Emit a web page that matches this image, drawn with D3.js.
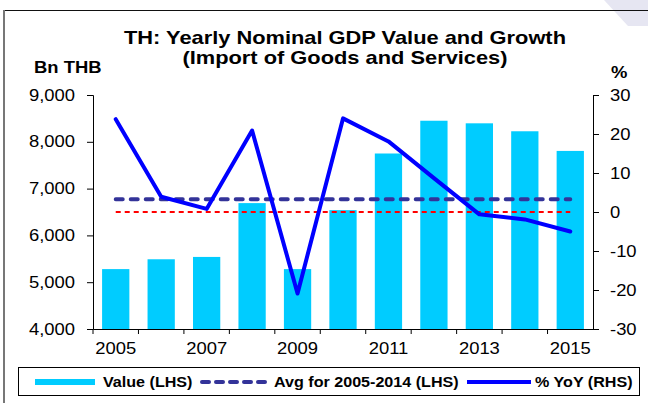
<!DOCTYPE html>
<html>
<head>
<meta charset="utf-8">
<script src="https://cdn.jsdelivr.net/npm/d3@7"></script>
<style>
  body { margin: 0; background: #fff; }
  svg { display: block; font-family: "Liberation Sans", Arial, sans-serif; }
</style>
</head>
<body>
<div id="chart"></div>
<script>
// data
var years = [2005, 2006, 2007, 2008, 2009, 2010, 2011, 2012, 2013, 2014, 2015];
var values = [5280, 5490, 5540, 6690, 5280, 6540, 7750, 8450, 8395, 8225, 7805];
var yoy = [23.8, 3.9, 0.8, 20.9, -20.9, 24.0, 18.1, 8.7, -0.6, -1.9, -5.0];
var avgValue = 6770;
var leftTicks = [4000, 5000, 6000, 7000, 8000, 9000];
var rightTicks = [-30, -20, -10, 0, 10, 20, 30];
var labelYears = [2005, 2007, 2009, 2011, 2013, 2015];

var svgWidth = 648;
var svgHeight = 403;

var margin = {
    top: 95,
    bottom: 74,
    left: 93,
    right: 55
};

var width = svgWidth - margin.left - margin.right;
var height = svgHeight - margin.top - margin.bottom;

var svg = d3.select("#chart")
.append("svg")
.attr("width", svgWidth)
.attr("height", svgHeight);

// frame + corner decoration
svg.append("polygon")
.attr("points", "604,0 648,0 648,26 628,26")
.attr("fill", "#e6e6f2");
svg.append("line")
.attr("x1", 3).attr("x2", 648).attr("y1", 10.5).attr("y2", 10.5)
.attr("stroke", "#111").attr("stroke-width", 1);
svg.append("line")
.attr("x1", 4).attr("x2", 4).attr("y1", 10).attr("y2", 403)
.attr("stroke", "#777").attr("stroke-width", 2);

var chartGroup = svg.append("g")
.attr("transform", `translate(${margin.left}, ${margin.top})`);

var xBandScale = d3.scaleBand()
.domain(years)
.range([0, width])
.paddingInner(0.4)
.paddingOuter(0.2);

var yLeft = d3.scaleLinear()
.domain([4000, 9000])
.range([height, 0]);

var yRight = d3.scaleLinear()
.domain([-30, 30])
.range([height, 0]);

var xCenter = d => xBandScale(d) + xBandScale.bandwidth() / 2;

// bars
chartGroup.selectAll(".bar")
.data(values)
.enter()
.append("rect")
.attr("class", "bar")
.attr("x", (d, i) => xBandScale(years[i]))
.attr("width", xBandScale.bandwidth())
.attr("y", d => yLeft(d))
.attr("height", d => height - yLeft(d))
.attr("fill", "#00ccff");

// avg line (LHS)
chartGroup.append("line")
.attr("x1", xCenter(years[0]))
.attr("x2", xCenter(years[years.length - 1]))
.attr("y1", yLeft(avgValue))
.attr("y2", yLeft(avgValue))
.attr("stroke", "#333399")
.attr("stroke-width", 4)
.attr("stroke-linecap", "round")
.attr("stroke-dasharray", "7,8");

// zero line of RHS
chartGroup.append("line")
.attr("x1", xCenter(years[0]))
.attr("x2", xCenter(years[years.length - 1]))
.attr("y1", yRight(0))
.attr("y2", yRight(0))
.attr("stroke", "#ff0000")
.attr("stroke-width", 2)
.attr("stroke-dasharray", "5,4");

// % yoy line
var line = d3.line()
.x((d, i) => xCenter(years[i]))
.y(d => yRight(d));

chartGroup.append("path")
.datum(yoy)
.attr("d", line)
.attr("fill", "none")
.attr("stroke", "#0000ff")
.attr("stroke-width", 4)
.attr("stroke-linejoin", "round")
.attr("stroke-linecap", "round");

// axes
var leftAxis = d3.axisLeft(yLeft)
.tickValues(leftTicks)
.tickSize(6)
.tickPadding(12)
.tickFormat(d3.format(","));

var rightAxis = d3.axisRight(yRight)
.tickValues(rightTicks)
.tickSize(6)
.tickPadding(11)
.tickFormat(d => String(d));

var bottomAxis = d3.axisBottom(xBandScale)
.tickSize(0)
.tickPadding(14)
.tickFormat(d => labelYears.indexOf(d) >= 0 ? d : "");

chartGroup.append("g").attr("class", "axis").call(leftAxis);
chartGroup.append("g").attr("class", "axis")
.attr("transform", `translate(${width}, 0)`)
.call(rightAxis);
chartGroup.append("g").attr("class", "axis")
.attr("transform", `translate(0, ${height})`)
.call(bottomAxis);

// category boundary ticks
var step = xBandScale.step();
chartGroup.selectAll(".xtick")
.data(years)
.enter()
.append("line")
.attr("x1", d => xBandScale(d) - step * 0.2)
.attr("x2", d => xBandScale(d) - step * 0.2)
.attr("y1", height)
.attr("y2", height + 5)
.attr("stroke", "#000");

svg.selectAll(".axis path").attr("stroke", "#000");
svg.selectAll(".axis line").attr("stroke", "#000");
svg.selectAll(".axis text")
.attr("font-family", "Liberation Sans, Arial, sans-serif")
.attr("font-size", "16px")
.attr("fill", "#000");

// titles
svg.append("text")
.attr("class", "title")
.attr("x", 345).attr("y", 44)
.attr("text-anchor", "middle")
.attr("font-size", "18.5px").attr("font-weight", "bold")
.text("TH: Yearly Nominal GDP Value and Growth");
svg.append("text")
.attr("class", "title")
.attr("x", 345).attr("y", 64)
.attr("text-anchor", "middle")
.attr("font-size", "18.5px").attr("font-weight", "bold")
.text("(Import of Goods and Services)");

svg.append("text")
.attr("x", 34).attr("y", 73)
.attr("font-size", "16px").attr("font-weight", "bold")
.text("Bn THB");
svg.append("text")
.attr("x", 611).attr("y", 78)
.attr("font-size", "16px").attr("font-weight", "bold")
.text("%");

// legend
var legend = svg.append("g");
legend.append("rect")
.attr("x", 18.5).attr("y", 367.5)
.attr("width", 621).attr("height", 28)
.attr("fill", "#fff").attr("stroke", "#000");

legend.append("line")
.attr("x1", 35).attr("x2", 95).attr("y1", 382).attr("y2", 382)
.attr("stroke", "#00ccff").attr("stroke-width", 6);
legend.append("line")
.attr("x1", 202).attr("x2", 266).attr("y1", 382).attr("y2", 382)
.attr("stroke", "#333399").attr("stroke-width", 4)
.attr("stroke-linecap", "round").attr("stroke-dasharray", "7,7");
legend.append("line")
.attr("x1", 467).attr("x2", 531).attr("y1", 382).attr("y2", 382)
.attr("stroke", "#0000ff").attr("stroke-width", 4);

var legendLabels = [["Value (LHS)", 103], ["Avg for 2005-2014 (LHS)", 274], ["% YoY (RHS)", 535]];
legend.selectAll(".ltext")
.data(legendLabels)
.enter()
.append("text")
.attr("x", d => d[1]).attr("y", 387)
.attr("font-size", "14px").attr("font-weight", "bold")
.text(d => d[0]);

// the original picture is stretched sideways, so widen every label a bit
svg.selectAll("text").each(function() {
    var len = this.getComputedTextLength();
    var k = d3.select(this).classed("title") ? 1.18 : 1.15;
    if (len > 0) {
        d3.select(this)
        .attr("textLength", len * k)
        .attr("lengthAdjust", "spacingAndGlyphs");
    }
});
</script>
</body>
</html>
